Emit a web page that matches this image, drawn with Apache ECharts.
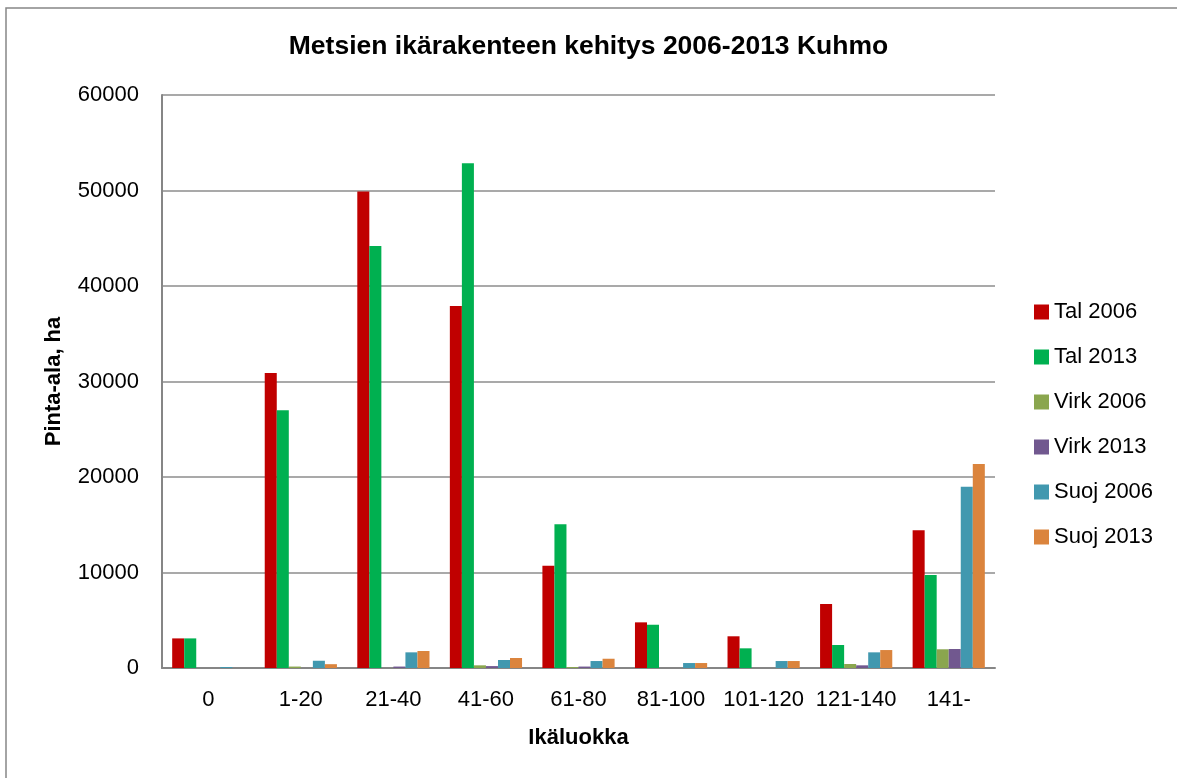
<!DOCTYPE html>
<html>
<head>
<meta charset="utf-8">
<script src="https://cdn.jsdelivr.net/npm/echarts@6/dist/echarts.min.js"></script>
<style>
  html, body { margin: 0; padding: 0; background: #fff; }
  #chart { width: 1177px; height: 778px; }
</style>
</head>
<body>
<div id="chart"></div>
<script>
// age classes
var categories = ['0', '1-20', '21-40', '41-60', '61-80', '81-100', '101-120', '121-140', '141-'];

// area per series, ha
var tal2006  = [3100, 30900, 49900, 37900, 10700, 4780, 3320, 6700, 14420];
var tal2013  = [3100, 27000, 44200, 52850, 15050, 4530, 2060, 2410, 9740];
var virk2006 = [0, 150, 0, 280, 100, 0, 0, 420, 1960];
var virk2013 = [0, 0, 150, 200, 150, 0, 0, 280, 1990];
var suoj2006 = [100, 760, 1640, 840, 730, 520, 730, 1640, 18980];
var suoj2013 = [0, 400, 1780, 1050, 970, 520, 730, 1880, 21360];

var seriesNames = ['Tal 2006', 'Tal 2013', 'Virk 2006', 'Virk 2013', 'Suoj 2006', 'Suoj 2013'];
var seriesData = [tal2006, tal2013, virk2006, virk2013, suoj2006, suoj2013];
var colors = ['#C00000', '#00B050', '#8AA64E', '#71588F', '#4198AF', '#DB843D'];

var font = 'Liberation Sans, Arial, sans-serif';

var chart = echarts.init(document.getElementById('chart'));
chart.setOption({
    animation: false,
    color: colors,
    textStyle: { fontFamily: font },
    graphic: [{
        type: 'rect',
        shape: { x: 6, y: 8, width: 1200, height: 800 },
        style: { fill: 'none', stroke: '#868686', lineWidth: 1.5 },
        silent: true
    }],
    title: {
        text: 'Metsien ikärakenteen kehitys 2006-2013 Kuhmo',
        left: 'center',
        top: 28,
        textStyle: { fontFamily: font, fontSize: 26.5, fontWeight: 'bold', color: '#000' }
    },
    legend: {
        orient: 'vertical',
        left: 1029,
        top: 296,
        itemWidth: 15,
        itemHeight: 15,
        itemGap: 23,
        icon: 'rect',
        textStyle: { fontFamily: font, fontSize: 22, lineHeight: 22, color: '#000' },
        data: seriesNames
    },
    grid: { left: 162, right: 182, top: 95, bottom: 110, containLabel: false },
    xAxis: {
        type: 'category',
        data: categories,
        name: 'Ikäluokka',
        nameLocation: 'middle',
        nameGap: 59,
        nameTextStyle: { fontFamily: font, fontSize: 22, fontWeight: 'bold', color: '#000' },
        axisLine: { lineStyle: { color: '#868686', width: 2 } },
        axisTick: { show: false },
        axisLabel: { fontFamily: font, fontSize: 22, color: '#000', margin: 21, interval: 0 }
    },
    yAxis: {
        type: 'value',
        min: 0,
        max: 60000,
        interval: 10000,
        name: 'Pinta-ala, ha',
        nameLocation: 'middle',
        nameGap: 97,
        nameRotate: 90,
        nameTextStyle: { fontFamily: font, fontSize: 22, fontWeight: 'bold', color: '#000' },
        axisLine: { show: true, lineStyle: { color: '#868686', width: 2 } },
        axisTick: { show: false },
        axisLabel: {
            fontFamily: font, fontSize: 22, color: '#000', margin: 23,
            formatter: function (v) { return String(v); }
        },
        splitLine: { lineStyle: { color: '#8c8c8c', width: 1.5 } }
    },
    series: seriesData.map(function (d, i) {
        return {
            name: seriesNames[i],
            type: 'bar',
            data: d,
            barGap: '0%',
            barCategoryGap: '22%'
        };
    })
});
</script>
</body>
</html>
